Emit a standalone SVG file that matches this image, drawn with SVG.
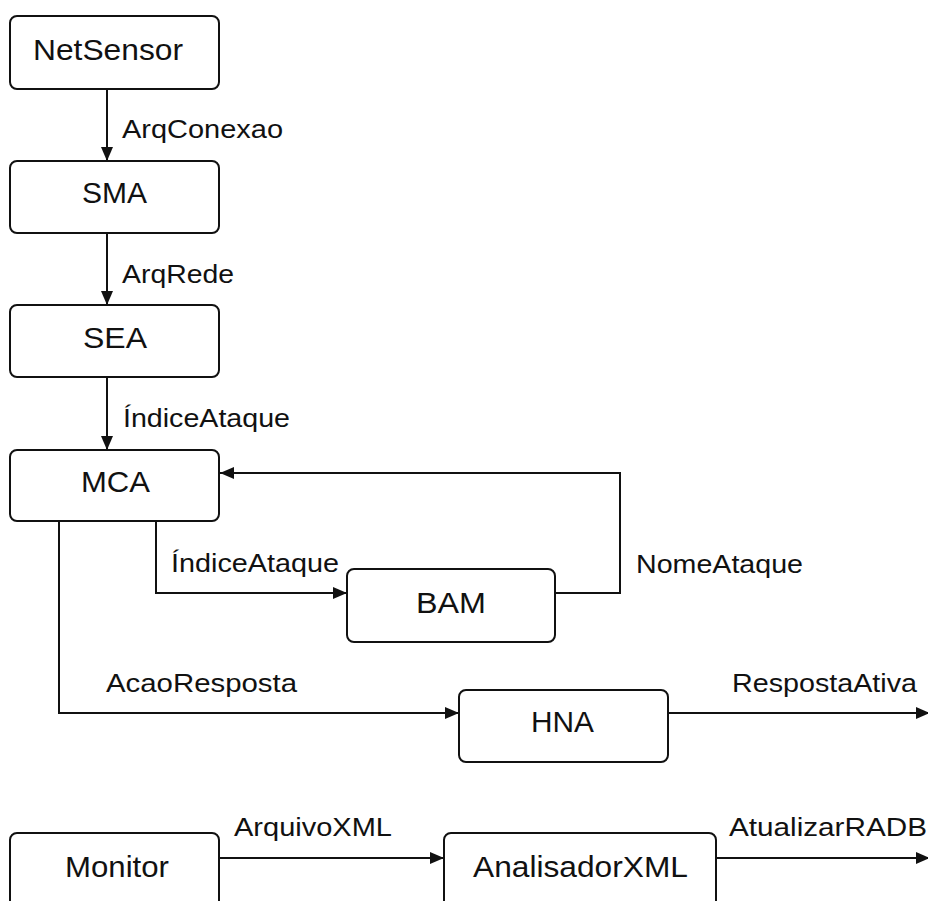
<svg xmlns="http://www.w3.org/2000/svg" width="928" height="901" viewBox="0 0 928 901">
<style>
.box{fill:#fff;stroke:#111;stroke-width:2}
.nl{font-family:"Liberation Sans",Arial,sans-serif;font-size:30px;fill:#111}
.el{font-family:"Liberation Sans",Arial,sans-serif;font-size:25px;fill:#111}
.c{fill:none;stroke:#111;stroke-width:2}
</style>
<defs>
<marker id="ah" markerUnits="userSpaceOnUse" markerWidth="15" markerHeight="13" refX="14" refY="6" orient="auto">
<path d="M0,0 L14,6 L0,12 z" fill="#111"/>
</marker>
</defs>
<rect width="928" height="901" fill="#fff"/>
<g id="connectors">
<path class="c" d="M107,89 V161" marker-end="url(#ah)"/>
<path class="c" d="M107,233 V305" marker-end="url(#ah)"/>
<path class="c" d="M107,377 V450" marker-end="url(#ah)"/>
<path class="c" d="M555,593 H620 V473 H220" marker-end="url(#ah)"/>
<path class="c" d="M156,521 V593 H347" marker-end="url(#ah)"/>
<path class="c" d="M59,521 V713 H459" marker-end="url(#ah)"/>
<path class="c" d="M668,713 H930" marker-end="url(#ah)"/>
<path class="c" d="M219,858 H444" marker-end="url(#ah)"/>
<path class="c" d="M716,858 H930" marker-end="url(#ah)"/>
<text class="el" x="122" y="138" textLength="161" lengthAdjust="spacingAndGlyphs">ArqConexao</text>
<text class="el" x="122" y="283" textLength="112" lengthAdjust="spacingAndGlyphs">ArqRede</text>
<text class="el" x="123" y="427" textLength="167" lengthAdjust="spacingAndGlyphs">ÍndiceAtaque</text>
<text class="el" x="171" y="572" textLength="168" lengthAdjust="spacingAndGlyphs">ÍndiceAtaque</text>
<text class="el" x="636" y="573" textLength="167" lengthAdjust="spacingAndGlyphs">NomeAtaque</text>
<text class="el" x="106" y="692" textLength="191" lengthAdjust="spacingAndGlyphs">AcaoResposta</text>
<text class="el" x="732" y="692" textLength="185" lengthAdjust="spacingAndGlyphs">RespostaAtiva</text>
<text class="el" x="234" y="836" textLength="158" lengthAdjust="spacingAndGlyphs">ArquivoXML</text>
<text class="el" x="729" y="836" textLength="198" lengthAdjust="spacingAndGlyphs">AtualizarRADB</text>
</g>
<g id="NetSensor"><rect class="box" x="10" y="16" width="209" height="73" rx="7"/><text class="nl" x="33" y="60" textLength="150" lengthAdjust="spacingAndGlyphs">NetSensor</text></g>
<g id="SMA"><rect class="box" x="10" y="161" width="209" height="72" rx="7"/><text class="nl" x="82" y="203" textLength="65" lengthAdjust="spacingAndGlyphs">SMA</text></g>
<g id="SEA"><rect class="box" x="10" y="305" width="209" height="72" rx="7"/><text class="nl" x="83" y="348" textLength="64" lengthAdjust="spacingAndGlyphs">SEA</text></g>
<g id="MCA"><rect class="box" x="10" y="450" width="209" height="71" rx="7"/><text class="nl" x="81" y="492" textLength="69" lengthAdjust="spacingAndGlyphs">MCA</text></g>
<g id="BAM"><rect class="box" x="347" y="569" width="208" height="73" rx="7"/><text class="nl" x="416" y="613" textLength="70" lengthAdjust="spacingAndGlyphs">BAM</text></g>
<g id="HNA"><rect class="box" x="459" y="690" width="209" height="72" rx="7"/><text class="nl" x="531" y="732" textLength="63" lengthAdjust="spacingAndGlyphs">HNA</text></g>
<g id="Monitor"><rect class="box" x="10" y="833" width="209" height="80" rx="7"/><text class="nl" x="65" y="877" textLength="104" lengthAdjust="spacingAndGlyphs">Monitor</text></g>
<g id="AnalisadorXML"><rect class="box" x="444" y="833" width="272" height="80" rx="7"/><text class="nl" x="473" y="877" textLength="215" lengthAdjust="spacingAndGlyphs">AnalisadorXML</text></g>
</svg>
